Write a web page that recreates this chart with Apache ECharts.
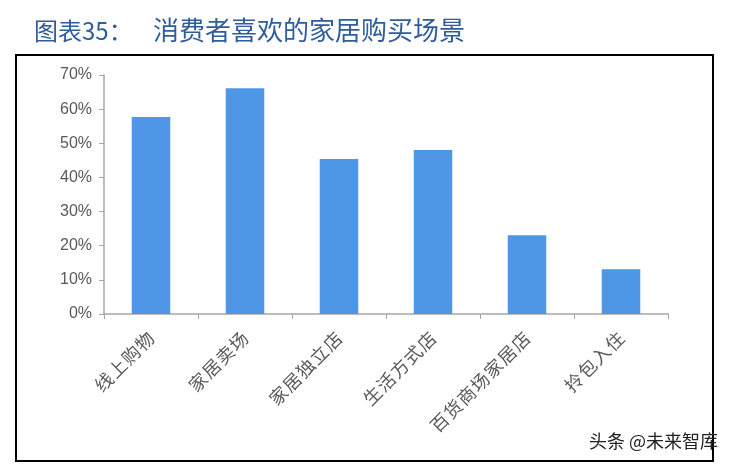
<!DOCTYPE html>
<html><head><meta charset="utf-8">
<script src="https://cdn.jsdelivr.net/npm/echarts@6/dist/echarts.min.js"></script>
<style>html,body{margin:0;padding:0;background:#fff}#c{width:736px;height:466px}</style>
</head><body><div id="c"></div>
<script>
const categories = ['线上购物','家居卖场','家居独立店','生活方式店','百货商场家居店','拎包入住'];
const values = [57.7, 66.1, 45.4, 48.0, 23.1, 13.1];
const yTicks = [0,10,20,30,40,50,60,70];

const chart = echarts.init(document.getElementById('c'));
chart.setOption({
  animation: false,
  backgroundColor: '#fff',
  graphic: [
    {type: 'text', left: 34, top: 19,
     style: {text: '图表35：', fill: '#2f5d9c', fontSize: 24, fontFamily: 'Noto Sans CJK SC'}},
    {type: 'text', left: 153, top: 17,
     style: {text: '消费者喜欢的家居购买场景', fill: '#2f5d9c', fontSize: 26, fontFamily: 'Noto Sans CJK SC'}},
    {type: 'rect', shape: {x: 16, y: 55, width: 697, height: 406},
     style: {fill: 'none', stroke: '#000', lineWidth: 2}},
    {type: 'text', left: 589, top: 432,
     style: {text: '头条 @未来智库', fill: '#222', fontSize: 18, fontFamily: 'Noto Sans CJK SC'}}
  ],
  grid: {left: 104, right: 68, top: 75, bottom: 152, containLabel: false},
  xAxis: {
    type: 'category', data: categories,
    axisLine: {lineStyle: {color: '#a6a6a6', width: 1.5}},
    axisTick: {show: true, length: 5, lineStyle: {color: '#a6a6a6'}},
    axisLabel: {rotate: 45, color: '#595959', fontSize: 18, fontFamily: 'Noto Sans CJK SC', margin: 21, interval: 0,
      formatter: v => v.split('').join('\u200a')}
  },
  yAxis: {
    type: 'value', min: 0, max: 70, interval: 10,
    axisLine: {show: true, lineStyle: {color: '#a6a6a6', width: 1.5}},
    axisTick: {show: true, length: 5, lineStyle: {color: '#a6a6a6'}},
    splitLine: {show: false},
    axisLabel: {formatter: v => v + '%', color: '#595959', fontSize: 16, fontFamily: 'Liberation Sans', margin: 12}
  },
  series: [{
    type: 'bar', data: values, barWidth: '41%',
    itemStyle: {color: '#4f96e6'}
  }]
});
</script></body></html>
